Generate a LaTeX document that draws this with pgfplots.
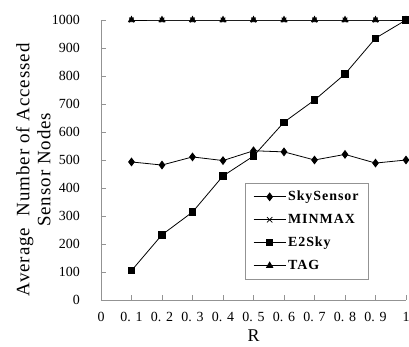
\documentclass[border=0pt]{standalone}
\usepackage{fontspec}
\setmainfont{Liberation Serif}
\newfontfamily\ylfont[LetterSpace=5]{Liberation Serif}
\newfontfamily\legfont[LetterSpace=7]{Liberation Serif}
\usepackage{pgfplots}
\pgfplotsset{compat=1.18}
\begin{document}
\begin{tikzpicture}
\begin{axis}[
  scale only axis, width=305bp, height=280bp,
  xmin=0, xmax=1, ymin=0, ymax=1000,
  axis lines*=left,
  axis line style={gray!85, line width=0.6pt},
  tick align=inside,
  major tick length=5bp,
  every tick/.style={gray!85, line width=0.6pt},
  /pgf/number format/assume math mode=true,
  xtick={0,0.1,0.2,0.3,0.4,0.5,0.6,0.7,0.8,0.9,1},
  xticklabels={0,0. 1,0. 2,0. 3,0. 4,0. 5,0. 6,0. 7,0. 8,0. 9,1},
  ytick={0,100,200,300,400,500,600,700,800,900,1000},
  yticklabels={0,100,200,300,400,500,600,700,800,900,1000},
  ticklabel style={font=\fontsize{14}{16}\selectfont, inner sep=0pt},
  yticklabel style={anchor=east, xshift=-21bp},
  xticklabel style={anchor=north, yshift=-12bp},
  xlabel={R},
  xlabel style={font=\fontsize{18}{20}\selectfont, at={(axis description cs:0.5,-0.128)}, anchor=center, inner sep=0pt},
  ylabel={Average\ \ Number of Accessed\\Sensor Nodes},
  ylabel style={font=\ylfont\fontsize{19}{21}\selectfont, align=center, at={(axis description cs:-0.165,0.465)}, anchor=south, inner sep=0pt},
  clip=false,
  legend cell align=left,
  legend style={at={(0.472,0.418)}, anchor=north west, draw=gray!85, line width=0.6pt,
    font=\legfont\bfseries\fontsize{14}{16}\selectfont, inner xsep=8bp, inner ysep=6bp,
    row sep=8bp},
  legend image code/.code={\draw[mark repeat=2,mark phase=2,#1] plot coordinates {(0bp,0bp) (16bp,0bp) (32bp,0bp)};},
]
\addplot[black, line width=0.8pt, mark=diamond*, mark size=3.8bp, forget plot]
  coordinates {(0.1,493)(0.2,482)(0.3,511)(0.4,498)(0.5,533)(0.6,529)(0.7,500)(0.8,520)(0.9,489)(1,500)};
\addplot[black, line width=0.8pt, mark=x, mark size=3.2bp, forget plot]
  coordinates {(0.1,1000)(0.2,1000)(0.3,1000)(0.4,1000)(0.5,1000)(0.6,1000)(0.7,1000)(0.8,1000)(0.9,1000)(1,1000)};
\addplot[black, line width=0.8pt, mark=triangle*, mark size=3.5bp, forget plot]
  coordinates {(0.1,1000)(0.2,1000)(0.3,1000)(0.4,1000)(0.5,1000)(0.6,1000)(0.7,1000)(0.8,1000)(0.9,1000)(1,1000)};
\addplot[black, line width=0.8pt, mark=square*, mark size=3.2bp, forget plot]
  coordinates {(0.1,105)(0.2,233)(0.3,314)(0.4,443)(0.5,514)(0.6,635)(0.7,714)(0.8,807)(0.9,935)(1,1000)};
\addlegendimage{black, line width=0.8pt, mark=diamond*, mark size=3.8bp}
\addlegendentry{SkySensor}
\addlegendimage{black, line width=0.8pt, mark=x, mark size=3.8bp}
\addlegendentry{MINMAX}
\addlegendimage{black, line width=0.8pt, mark=square*, mark size=3.2bp}
\addlegendentry{E2Sky}
\addlegendimage{black, line width=0.8pt, mark=triangle*, mark size=3.5bp}
\addlegendentry{TAG}
\end{axis}
\pgfresetboundingbox
\path[use as bounding box] ([xshift=-101bp,yshift=-47bp]current axis.south west) rectangle ([xshift=3bp,yshift=20bp]current axis.north east);
\end{tikzpicture}
\end{document}
